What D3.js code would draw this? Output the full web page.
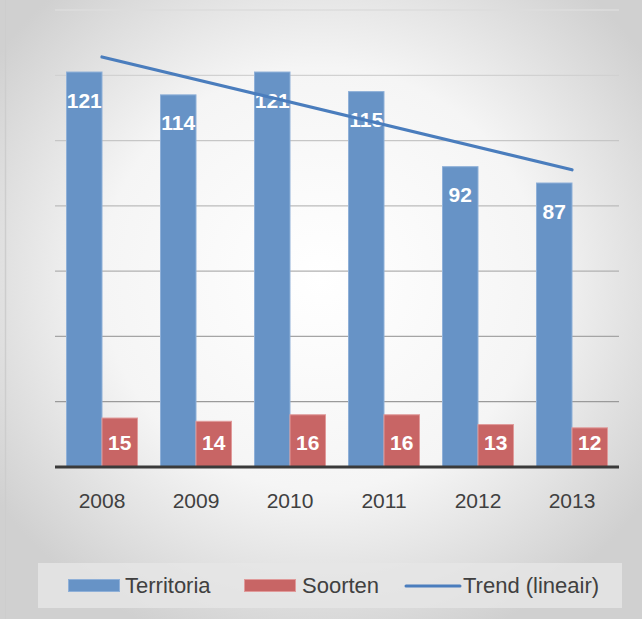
<!DOCTYPE html>
<html>
<head>
<meta charset="utf-8">
<script src="https://cdn.jsdelivr.net/npm/d3@7"></script>
<style>
  body { margin: 0; background: #fff; }
  svg { display: block; }
</style>
</head>
<body>
<svg width="642" height="619"></svg>
<script>
// data
const years = ["2008", "2009", "2010", "2011", "2012", "2013"]
const territoria = [121, 114, 121, 115, 92, 87]
const soorten = [15, 14, 16, 16, 13, 12]
const yTicks = [0, 20, 40, 60, 80, 100, 120, 140]
const legendNames = ["Territoria", "Soorten", "Trend (lineair)"]

const blue = "#6793c6"
const red = "#c86565"
const trendColor = "#4a7dbd"
const font = "'Liberation Sans', Arial, sans-serif"

let svg = d3.select("svg")
let W = 642, H = 619

// background
let defs = svg.append("defs")
let grad = defs.append("radialGradient")
  .attr("id", "bg")
  .attr("cx", "50%").attr("cy", "45%").attr("r", "62%")
grad.append("stop").attr("offset", "0%").attr("stop-color", "#ffffff")
grad.append("stop").attr("offset", "55%").attr("stop-color", "#f5f5f5")
grad.append("stop").attr("offset", "100%").attr("stop-color", "#d0d0d0")

svg.append("rect")
  .attr("width", W).attr("height", H)
  .attr("fill", "url(#bg)")

svg.append("line")
  .attr("x1", 5.5).attr("x2", 5.5)
  .attr("y1", 0).attr("y2", H)
  .attr("stroke", "#cdcdcd").attr("stroke-width", 1.5)

// scales
let x = d3.scaleBand().domain(years).range([55, 619]).paddingInner(0).paddingOuter(0)
let y = d3.scaleLinear().domain([0, 140]).range([467, 10])

let barW = 35.5
let offset = (x.bandwidth() - 2 * barW) / 2

// gridlines
let gridColor = d3.scaleLinear().domain([140, 20]).range(["#dcdcdc", "#9a9a9a"])
svg.append("g")
  .selectAll("line")
  .data(yTicks.filter(d => d > 0))
  .join("line")
  .attr("x1", 55).attr("x2", 619)
  .attr("y1", d => y(d)).attr("y2", d => y(d))
  .attr("stroke", d => gridColor(d))
  .attr("stroke-width", 1.3)

// bars
let groups = svg.append("g")
  .selectAll("g")
  .data(years)
  .join("g")
  .attr("transform", d => "translate(" + (x(d) + offset) + ",0)")

groups.append("rect")
  .attr("x", 0)
  .attr("y", (d, i) => y(territoria[i]))
  .attr("width", barW)
  .attr("height", (d, i) => y(0) - y(territoria[i]))
  .attr("fill", blue)
  .attr("stroke", "#8fb0d8").attr("stroke-width", 1)

groups.append("rect")
  .attr("x", barW)
  .attr("y", (d, i) => y(soorten[i]))
  .attr("width", barW)
  .attr("height", (d, i) => y(0) - y(soorten[i]))
  .attr("fill", red)
  .attr("stroke", "#e09a9a").attr("stroke-width", 1)

// labels
groups.append("text")
  .attr("x", barW / 2)
  .attr("y", (d, i) => y(territoria[i]) + 35.5)
  .attr("text-anchor", "middle")
  .attr("font-family", font).attr("font-weight", "bold").attr("font-size", "21px")
  .attr("fill", "#fff")
  .text((d, i) => territoria[i])

groups.append("text")
  .attr("x", barW * 1.5)
  .attr("y", y(0) - 17.5)
  .attr("text-anchor", "middle")
  .attr("font-family", font).attr("font-weight", "bold").attr("font-size", "21px")
  .attr("fill", "#fff")
  .text((d, i) => soorten[i])

// trend (linear regression of territoria)
let n = territoria.length
let xs = d3.range(1, n + 1)
let mx = d3.mean(xs), my = d3.mean(territoria)
let slope = d3.sum(xs, (v, i) => (v - mx) * (territoria[i] - my)) / d3.sum(xs, v => (v - mx) * (v - mx))
let icpt = my - slope * mx

svg.append("line")
  .attr("x1", x(years[0]) + x.bandwidth() / 2)
  .attr("y1", y(icpt + slope * 1))
  .attr("x2", x(years[n - 1]) + x.bandwidth() / 2)
  .attr("y2", y(icpt + slope * n))
  .attr("stroke", trendColor).attr("stroke-width", 3.2)
  .attr("stroke-linecap", "round")

// x axis
svg.append("line")
  .attr("x1", 55).attr("x2", 619)
  .attr("y1", 467).attr("y2", 467)
  .attr("stroke", "#3a3a3a").attr("stroke-width", 3)

svg.append("g")
  .selectAll("text")
  .data(years)
  .join("text")
  .attr("x", d => x(d) + x.bandwidth() / 2)
  .attr("y", 508)
  .attr("text-anchor", "middle")
  .attr("font-family", font).attr("font-size", "21px")
  .attr("fill", "#404040")
  .text(d => d)

// legend
svg.append("rect")
  .attr("x", 38).attr("y", 563)
  .attr("width", 584).attr("height", 45)
  .attr("fill", "#e6e6e6").attr("opacity", 0.8)

let leg = svg.append("g")
leg.append("rect").attr("x", 68.5).attr("y", 579.5).attr("width", 51).attr("height", 12)
  .attr("fill", blue).attr("stroke", "#8fb0d8")
leg.append("rect").attr("x", 244.5).attr("y", 579.5).attr("width", 51).attr("height", 12)
  .attr("fill", red).attr("stroke", "#e09a9a")
leg.append("line").attr("x1", 406).attr("x2", 460).attr("y1", 586).attr("y2", 586)
  .attr("stroke", trendColor).attr("stroke-width", 3).attr("stroke-linecap", "round")

leg.selectAll("text")
  .data(legendNames)
  .join("text")
  .attr("x", (d, i) => [125, 302, 463][i])
  .attr("y", 593)
  .attr("font-family", font).attr("font-size", "22px")
  .attr("fill", "#404040")
  .text(d => d)
</script>
</body>
</html>
